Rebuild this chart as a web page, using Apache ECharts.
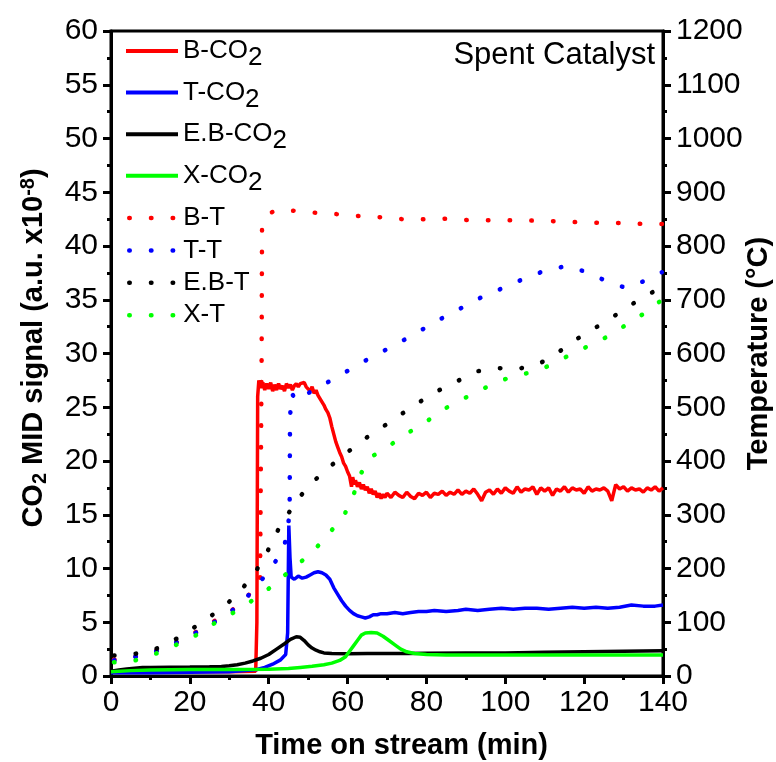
<!DOCTYPE html>
<html>
<head>
<meta charset="utf-8">
<script src="https://cdn.jsdelivr.net/npm/echarts@6/dist/echarts.min.js"></script>
<style>
html,body{margin:0;padding:0;background:#fff;}
#chart{width:776px;height:762px;}
</style>
</head>
<body>
<div id="chart"></div>
<script>
// ---- Data (time in min, CO2 signal in a.u. x1e-8, temperature in °C) ----
const xTicks = [0, 20, 40, 60, 80, 100, 120, 140];
const leftTicks = [0, 5, 10, 15, 20, 25, 30, 35, 40, 45, 50, 55, 60];
const rightTicks = [0, 100, 200, 300, 400, 500, 600, 700, 800, 900, 1000, 1100, 1200];

const bCO2 = [[0,0.4],[10,0.4],[20,0.4],[30,0.4],[36.7,0.45],[37.0,5],[37.2,26.0],[37.5,27.5],[38,26.8],[38.5,27.3],[39,26.6],[39.5,27.2],[40,26.7],[40.5,27.3],[41,26.5],[41.5,27.1],[42,26.6],[42.5,27.2],[43,26.7],[43.5,27.0],[44,26.5],[44.5,27.2],[45,26.8],[45.5,27.1],[46,26.6],[46.5,27.0],[47,27.2],[47.5,26.9],[48,27.2],[48.5,27.1],[49,27.3],[49.5,26.9],[50,27.0],[50.5,26.5],[51,26.9],[51.5,26.3],[52,26.6],[52.5,26.1],[53,26.0],[53.5,25.5],[54,25.2],[54.5,24.8],[55,24.5],[55.5,24.0],[56,23.2],[56.5,22.5],[57,21.8],[57.5,21.3],[58,20.8],[58.5,20.4],[59,19.8],[59.5,19.5],[60,19.0],[60.5,18.6],[61,17.6],[61.3,18.5],[61.7,17.8],[62,18.2],[62.5,17.6],[63,18.0],[63.5,17.4],[64,17.8],[64.5,17.3],[65,17.6],[65.5,17.0],[66,17.4],[66.5,16.9],[67,17.2],[67.5,16.6],[68,17.0],[68.5,16.5],[69,16.9],[69.5,16.6],[70,17.0],[71,16.6],[72,17.1],[73,16.8],[74,16.6],[75,17.1],[76,16.7],[77,16.5],[78,17.0],[79,16.8],[80,17.1],[81,16.6],[82,17.0],[83,16.9],[84,17.2],[85,16.8],[86,17.1],[87,16.9],[88,17.3],[89,16.9],[90,17.2],[91,17.0],[92,17.4],[93,16.9],[94,16.3],[95,17.1],[96,17.3],[97,16.9],[98,17.4],[99,17.0],[100,17.5],[101,17.2],[102,17.0],[103,17.6],[104,17.1],[105,17.4],[106,17.3],[107,17.6],[108,16.9],[109,17.5],[110,17.2],[111,17.5],[112,16.8],[113,17.4],[114,17.2],[115,17.6],[116,17.1],[117,17.5],[118,17.3],[119,17.4],[120,17.0],[121,17.6],[122,17.2],[123,17.4],[124,17.3],[125,17.5],[126,17.2],[127,16.3],[128,17.8],[129,17.4],[130,17.6],[131,17.2],[132,17.5],[133,17.3],[134,17.4],[135,17.1],[136,17.5],[137,17.3],[138,17.6],[139,17.2],[140,17.5]];

const tCO2 = [[0,0.3],[10,0.3],[20,0.35],[30,0.4],[34,0.5],[37,0.6],[39,0.8],[41,1.1],[43,1.5],[44.3,2.0],[44.8,4],[45.1,14.0],[45.4,11],[45.7,9.2],[46.5,9.0],[47.5,9.3],[48.5,9.1],[49.5,9.2],[50.5,9.4],[51.5,9.6],[52.5,9.7],[53.5,9.6],[54.5,9.4],[55.5,9.0],[56.5,8.2],[57.5,7.6],[58.5,7.0],[59.5,6.5],[60.5,6.1],[61.5,5.8],[62.5,5.6],[63.5,5.5],[64.5,5.4],[65.5,5.5],[66.5,5.7],[67.5,5.7],[68.5,5.8],[70,5.8],[72,5.9],[74,5.8],[76,5.9],[78,6.0],[80,6.0],[82,6.1],[85,6.0],[88,6.1],[90,6.2],[93,6.1],[96,6.2],[99,6.3],[102,6.2],[105,6.3],[108,6.3],[111,6.2],[114,6.3],[117,6.4],[120,6.3],[123,6.4],[126,6.3],[129,6.4],[132,6.6],[135,6.5],[138,6.5],[140,6.6]];

const ebCO2 = [[0,0.45],[2,0.55],[4,0.65],[6,0.72],[8,0.78],[10,0.8],[15,0.82],[20,0.83],[25,0.85],[28,0.88],[30,0.95],[32,1.05],[34,1.2],[36,1.4],[38,1.65],[40,2.0],[42,2.5],[44,3.0],[45.5,3.4],[47,3.65],[48,3.6],[49,3.3],[50,2.9],[51,2.6],[52,2.4],[53,2.25],[54,2.15],[56,2.1],[60,2.08],[65,2.1],[70,2.1],[75,2.1],[80,2.12],[90,2.15],[100,2.15],[110,2.2],[120,2.25],[130,2.3],[140,2.35]];

const xCO2 = [[0,0.4],[5,0.5],[10,0.55],[20,0.6],[30,0.6],[40,0.62],[45,0.7],[48,0.8],[51,0.9],[54,1.05],[56,1.2],[58,1.45],[59.5,1.8],[60.5,2.3],[61.5,2.8],[62.5,3.3],[63.5,3.8],[64.5,4.0],[66,4.05],[67.5,4.0],[69,3.7],[70.5,3.3],[72,2.9],[73.5,2.5],[75,2.25],[77,2.1],[80,2.0],[85,1.95],[90,1.95],[100,1.95],[110,1.95],[120,1.95],[130,1.95],[140,1.95]];

const bT = [[0,30],[5,34],[10,43],[15,57],[20,75],[25,97],[30,118],[34,143],[37.8,175],[38.2,590],[38.3,830],[40,860],[42,867],[48,865],[53,861],[58,859],[64,855],[70,853],[75,849],[80,850],[86,851],[91,848],[97,848],[102,848],[108,847],[113,846],[119,844],[124,843],[130,843],[135,841],[140,841]];

const tT = [[0,28],[5,34],[10,42],[15,57],[20,74],[25,95],[30,117],[34,143],[37.8,175],[41,205],[43.9,238],[45.3,300],[45.4,480],[45.8,526],[47.1,512],[51.3,532],[56.1,551],[60.8,571],[65.3,590],[70,608],[75,628],[80,649],[85,670],[90,689],[94.3,706],[99.5,722],[105,740],[110,754],[115.7,763],[121.2,750],[125.5,735],[130.6,722],[135.3,735],[139.7,751]];

const ebT = [[0,38],[5,40],[10,46],[15,62],[20,85],[25,110],[29,131],[33,160],[36.4,191],[39.2,224],[41.6,262],[44.3,295],[47.4,329],[50.6,357],[54,380],[58,405],[62,428],[66,450],[70.5,471],[75,494],[79.4,515],[84,535],[88.5,551],[93,567],[97.7,573],[103,571],[108.4,580],[113.2,601],[117.9,626],[122.2,645],[126.6,665],[131,686],[135.4,707],[139.5,722]];

const xT = [[0,25],[5.7,28],[11.2,41],[16.5,58],[21.6,76],[26.2,98],[30.4,115],[34.7,135],[39.1,157],[43.3,183],[47.5,208],[52,238],[55.5,267],[59.2,300],[61.6,339],[63.4,377],[66.1,408],[70.5,428],[74.8,450],[79.6,471],[83.8,494],[88.3,512],[93.2,530],[97.6,546],[102.9,560],[107.8,566],[112.4,582],[117.1,600],[122,617],[126.6,634],[131.2,656],[135.3,675],[139.4,698]];

const co2Names = ['B-CO2', 'T-CO2', 'E.B-CO2', 'X-CO2'];
const tNames = ['B-T', 'T-T', 'E.B-T', 'X-T'];
const colors = ['#ff0000', '#0000ff', '#000000', '#00ff00'];

// ---- Chart ----
const FONT = "'Liberation Sans', Arial, sans-serif";
const chart = echarts.init(document.getElementById('chart'), null, {renderer: 'canvas'});

const co2Data = [bCO2, tCO2, ebCO2, xCO2];
const tData = [bT, tT, ebT, xT];

const series = [];
co2Names.forEach((n, i) => {
  series.push({
    name: n, type: 'line', yAxisIndex: 0, data: co2Data[i],
    symbol: 'none', showSymbol: false, smooth: false,
    lineStyle: {color: colors[i], width: 3.5},
    itemStyle: {color: colors[i]},
    z: 2
  });
});
tNames.forEach((n, i) => {
  series.push({
    name: n, type: 'line', yAxisIndex: 1, data: tData[i],
    symbol: 'none', showSymbol: false, smooth: false,
    lineStyle: {color: colors[i], width: 4.5, type: [0.5, 21.2], cap: 'round', dashOffset: -3},
    itemStyle: {color: colors[i]},
    z: 3
  });
});

const legendRich = {
  n: {fontFamily: FONT, fontSize: 26, color: '#000', lineHeight: 30},
  s: {fontFamily: FONT, fontSize: 26, color: '#000', lineHeight: 16, padding: [14, 0, 0, 0]}
};

const tickStyle = {fontFamily: FONT, fontSize: 30, color: '#000'};
const axisLine = {show: true, lineStyle: {color: '#000', width: 3}};

const option = {
  animation: false,
  backgroundColor: '#fff',
  grid: {left: 111, right: 113, top: 31, bottom: 86, containLabel: false, outerBoundsMode: 'none',
         show: true, borderColor: '#000', borderWidth: 3, backgroundColor: 'transparent'},
  legend: [
    {
      data: co2Names, orient: 'vertical', left: 124, top: 31, padding: 0,
      itemWidth: 52, itemHeight: 14, itemGap: 1.6, selectedMode: false,
      itemStyle: {opacity: 0},
      lineStyle: {width: 4},
      formatter: function (name) { return '{n|' + name.replace(/2$/, '') + '}{s|2}'; },
      textStyle: {rich: legendRich, fontSize: 26, fontFamily: FONT, color: '#000'}
    },
    {
      data: tNames, orient: 'vertical', left: 124, top: 205, padding: 0,
      itemWidth: 52, itemHeight: 14, itemGap: 6.4, selectedMode: false,
      itemStyle: {opacity: 0},
      lineStyle: {width: 4.5},
      textStyle: {fontSize: 26, fontFamily: FONT, color: '#000', lineHeight: 22}
    }
  ],
  xAxis: {
    type: 'value', min: 0, max: 140, interval: 20,
    name: 'Time on stream (min)', nameLocation: 'middle', nameGap: 53, nameMoveOverlap: false,
    nameTextStyle: {fontFamily: FONT, fontSize: 29, fontWeight: 'bold', color: '#000', lineHeight: 34, padding: [0, 0, 0, 29]},
    axisLine: axisLine,
    axisTick: {show: true, inside: false, length: 8, lineStyle: {color: '#000', width: 3}},
    minorTick: {show: true, splitNumber: 2, length: 4, lineStyle: {color: '#000', width: 3}},
    splitLine: {show: false},
    axisLabel: Object.assign({margin: 12, formatter: function (v) { return xTicks.indexOf(v) >= 0 ? String(v) : ''; }}, tickStyle)
  },
  yAxis: [
    {
      type: 'value', min: 0, max: 60, interval: 5, position: 'left',
      name: '{b|CO}{s|2}{b| MID signal (a.u. x10}{p|-8}{b|)}',
      nameLocation: 'middle', nameGap: 60, nameRotate: 90, nameMoveOverlap: false,
      nameTextStyle: {
        padding: [0, 0, 0, 11],
        rich: {
          b: {fontFamily: FONT, fontSize: 29, fontWeight: 'bold', color: '#000', lineHeight: 34},
          s: {fontFamily: FONT, fontSize: 20, fontWeight: 'bold', color: '#000', lineHeight: 20, padding: [12, 0, 0, 0]},
          p: {fontFamily: FONT, fontSize: 20, fontWeight: 'bold', color: '#000', lineHeight: 20, padding: [0, 0, 12, 0]}
        }
      },
      axisLine: axisLine,
      axisTick: {show: true, inside: false, length: 8, lineStyle: {color: '#000', width: 3}},
      minorTick: {show: true, splitNumber: 2, length: 4, lineStyle: {color: '#000', width: 3}},
      splitLine: {show: false},
      axisLabel: Object.assign({margin: 13, formatter: function (v) { return leftTicks.indexOf(v) >= 0 ? String(v) : ''; }}, tickStyle)
    },
    {
      type: 'value', min: 0, max: 1200, interval: 100, position: 'right',
      name: 'Temperature (°C)', nameLocation: 'middle', nameGap: 79, nameRotate: 90, nameMoveOverlap: false,
      nameTextStyle: {fontFamily: FONT, fontSize: 29, fontWeight: 'bold', color: '#000', lineHeight: 34},
      axisLine: axisLine,
      axisTick: {show: true, inside: false, length: 8, lineStyle: {color: '#000', width: 3}},
      minorTick: {show: true, splitNumber: 2, length: 4, lineStyle: {color: '#000', width: 3}},
      splitLine: {show: false},
      axisLabel: Object.assign({margin: 13, formatter: function (v) { return rightTicks.indexOf(v) >= 0 ? String(v) : ''; }}, tickStyle)
    }
  ],
  graphic: [
    {
      type: 'text', right: 121, top: 40, z: 100,
      style: {text: 'Spent Catalyst', font: '31px ' + FONT, fill: '#000'}
    }
  ],
  series: series
};
chart.setOption(option);
</script>
</body>
</html>
